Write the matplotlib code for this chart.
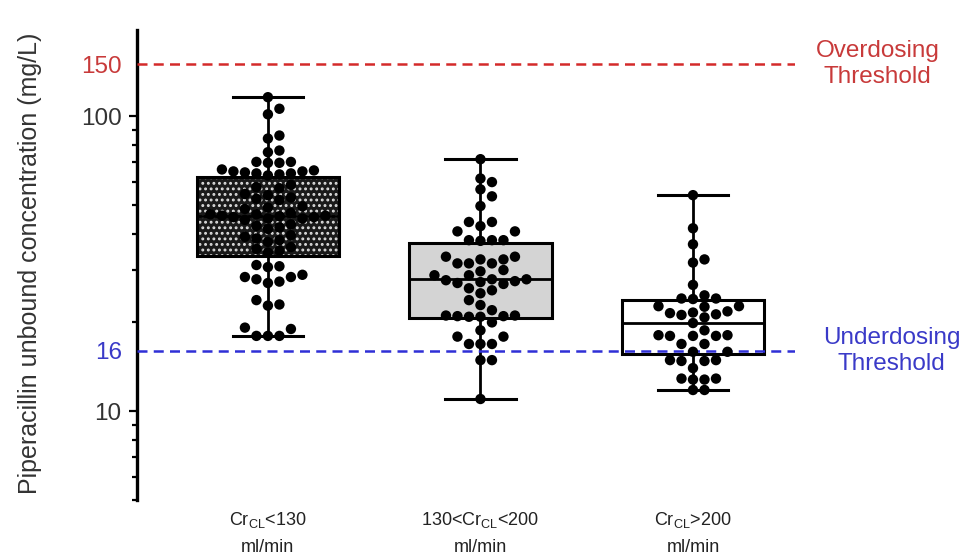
import numpy as np
import matplotlib
matplotlib.use("Agg")
import matplotlib.pyplot as plt
from matplotlib.patches import Rectangle
from matplotlib.ticker import LogLocator, NullFormatter, FixedLocator
from matplotlib.transforms import blended_transform_factory

plt.rcParams['font.family'] = ['Liberation Sans', 'DejaVu Sans']
plt.rcParams['mathtext.default'] = 'regular'
plt.rcParams['hatch.linewidth'] = 1.3

# x categories
groups = ['Cr$_{CL}$<130\nml/min', '130<Cr$_{CL}$<200\nml/min', 'Cr$_{CL}$>200\nml/min']

# unbound piperacillin per patient (mg/L)
conc_low = [116.0, 106.0, 101.5, 86.0, 84.0, 76.5, 75.5, 70.0, 70.0, 69.5, 69.5,
            66.0, 65.5, 65.0, 65.0, 64.5, 64.0, 64.0, 63.5, 63.0,
            58.5, 57.5, 57.0, 54.5, 54.0, 53.0, 52.5, 52.0, 49.5, 49.0, 48.5,
            47.0, 46.5, 46.5, 46.0, 46.0, 45.8, 45.5, 45.5, 45.0, 45.0, 44.5,
            43.0, 42.5, 42.0, 41.5, 39.5, 39.0, 38.5, 38.0, 37.5, 36.0, 35.5, 35.0, 34.5,
            31.3, 31.0, 30.8, 29.0, 28.5, 28.5, 28.0, 27.5, 27.2, 23.8, 23.0, 22.8,
            19.2, 19.0, 18.0, 18.0, 18.0]
conc_mid = [71.5, 61.5, 59.8, 56.5, 53.5, 49.6, 43.8, 43.8, 42.4, 40.7, 40.7,
            38.0, 38.0, 38.0, 37.8,
            33.4, 33.4, 32.7, 32.7, 31.7, 31.7, 31.7, 30.1, 29.8, 28.9, 28.9,
            28.0, 28.0, 27.8, 27.6, 27.4, 27.2, 27.0,
            26.1, 25.7, 25.1, 23.8, 22.9, 22.0,
            21.1, 21.1, 21.0, 21.0, 20.9, 20.9,
            20.0, 18.8, 17.9, 17.9, 16.9, 16.9, 16.9, 14.9, 14.9, 11.0]
conc_high = [54.0, 41.7, 36.8, 32.7, 31.9, 26.8, 24.7, 24.1, 24.1, 24.0, 22.7, 22.7, 22.6,
             21.8, 21.6, 21.5, 21.3, 21.2, 20.8, 19.9, 18.8, 18.1, 18.1, 18.0, 18.0, 18.0,
             16.9, 16.9, 15.9, 15.9, 14.9, 14.9, 14.8, 14.8, 14.0, 12.9, 12.9, 12.8, 12.8,
             11.8, 11.8]

# box summary (min, Q1, median, Q3, max)
box_min = [18.0, 11.0, 11.8]
box_q1 = [33.5, 20.7, 15.6]
box_med = [45.8, 28.0, 19.9]
box_q3 = [62.0, 37.1, 23.8]
box_max = [116.0, 71.5, 54.0]

thresholds = [150, 16]
threshold_names = ['Overdosing\nThreshold', 'Underdosing\nThreshold']
threshold_colors = ['#d42a2a', '#2f2fd6']
text_colors = ['#c83a3a', '#3a3ac8']

positions = [1, 2, 3]
box_faces = ['none', '#d4d4d4', 'white']


def swarm(vals, xc, ax, d=11.5):
    # simple beeswarm in pixel space so dots don't overlap
    pts = ax.transData.transform(np.column_stack([np.full(len(vals), xc), vals]))
    x0 = pts[0, 0]
    ys = pts[:, 1]
    xs = np.full(len(vals), x0)
    placed = []
    for i in np.argsort(ys):
        for k in range(60):
            off = ((k + 1) // 2) * d * (1 if k % 2 else -1)
            ok = True
            for (px, py) in placed:
                if (x0 + off - px) ** 2 + (ys[i] - py) ** 2 < (d * 0.9) ** 2:
                    ok = False
                    break
            if ok:
                xs[i] = x0 + off
                placed.append((xs[i], ys[i]))
                break
    back = ax.transData.inverted().transform(np.column_stack([xs, ys]))
    return back[:, 0]


fig = plt.figure(figsize=(9.71, 5.58), dpi=100)
ax = fig.add_axes([137 / 971, 58 / 558, 658 / 971, 470 / 558])
ax.set_yscale('log')
ax.set_ylim(5.0, 196)
ax.set_xlim(0.384, 3.48)

stats = []
for i in range(3):
    stats.append(dict(whislo=box_min[i], q1=box_q1[i], med=box_med[i],
                      q3=box_q3[i], whishi=box_max[i], label=groups[i]))

bp = ax.bxp(stats, positions=positions, widths=0.67, capwidths=0.33,
            patch_artist=True, showfliers=False,
            boxprops=dict(linewidth=2.2, edgecolor='black'),
            whiskerprops=dict(linewidth=2.0, color='black'),
            capprops=dict(linewidth=2.2, color='black'),
            medianprops=dict(linewidth=2.0, color='black'))
for patch, fc in zip(bp['boxes'], box_faces):
    patch.set_facecolor(fc)
    patch.set_zorder(2)

# checkered fill of the first box
ax.add_patch(Rectangle((positions[0] - 0.335, box_q1[0]), 0.67, box_q3[0] - box_q1[0],
                       facecolor='#1a1a1a', edgecolor='#dddddd', hatch='...',
                       linewidth=0, zorder=1.9))

for pos, vals in zip(positions, [conc_low, conc_mid, conc_high]):
    xs = swarm(vals, pos, ax)
    ax.scatter(xs, vals, s=56, color='black', edgecolors='none', zorder=4)

for thr, c in zip(thresholds, threshold_colors):
    ax.axhline(thr, color=c, linewidth=1.8, dashes=(4, 2.5), zorder=3)

trans = blended_transform_factory(fig.transFigure, ax.transData)
for thr, name, c, xc in zip(thresholds, threshold_names, text_colors, [0.904, 0.918]):
    ax.text(xc, thr, name, transform=trans, ha='center', va='center',
            color=c, fontsize=17.5, linespacing=1.25, clip_on=False)

# y ticks
ax.yaxis.set_major_locator(FixedLocator([10, 16, 100, 150]))
ax.set_yticklabels(['10', '16', '100', '150'])
ax.yaxis.set_minor_locator(LogLocator(base=10, subs=np.arange(2, 10)))
ax.yaxis.set_minor_formatter(NullFormatter())
ax.tick_params(axis='y', which='major', length=6, width=1.6, labelsize=17.5,
               pad=5, labelcolor='#333333')
ax.tick_params(axis='y', which='minor', length=3.5, width=1.6)
for tk, val in zip(ax.yaxis.get_major_ticks(), [10, 16, 100, 150]):
    if val in thresholds:
        tk.tick1line.set_visible(False)
        tk.label1.set_color(text_colors[thresholds.index(val)])

ax.set_xticks(positions)
ax.set_xticklabels(groups, fontsize=13, linespacing=1.75)
ax.tick_params(axis='x', length=0, pad=7, labelcolor='#222222')

for s in ['top', 'right', 'bottom']:
    ax.spines[s].set_visible(False)
ax.spines['left'].set_linewidth(2.4)

fig.text(30 / 971, 1 - 263 / 558, 'Piperacillin unbound concentration (mg/L)',
         rotation=90, ha='center', va='center', fontsize=18, color='#333333')

fig.savefig('out.png', dpi=100)
